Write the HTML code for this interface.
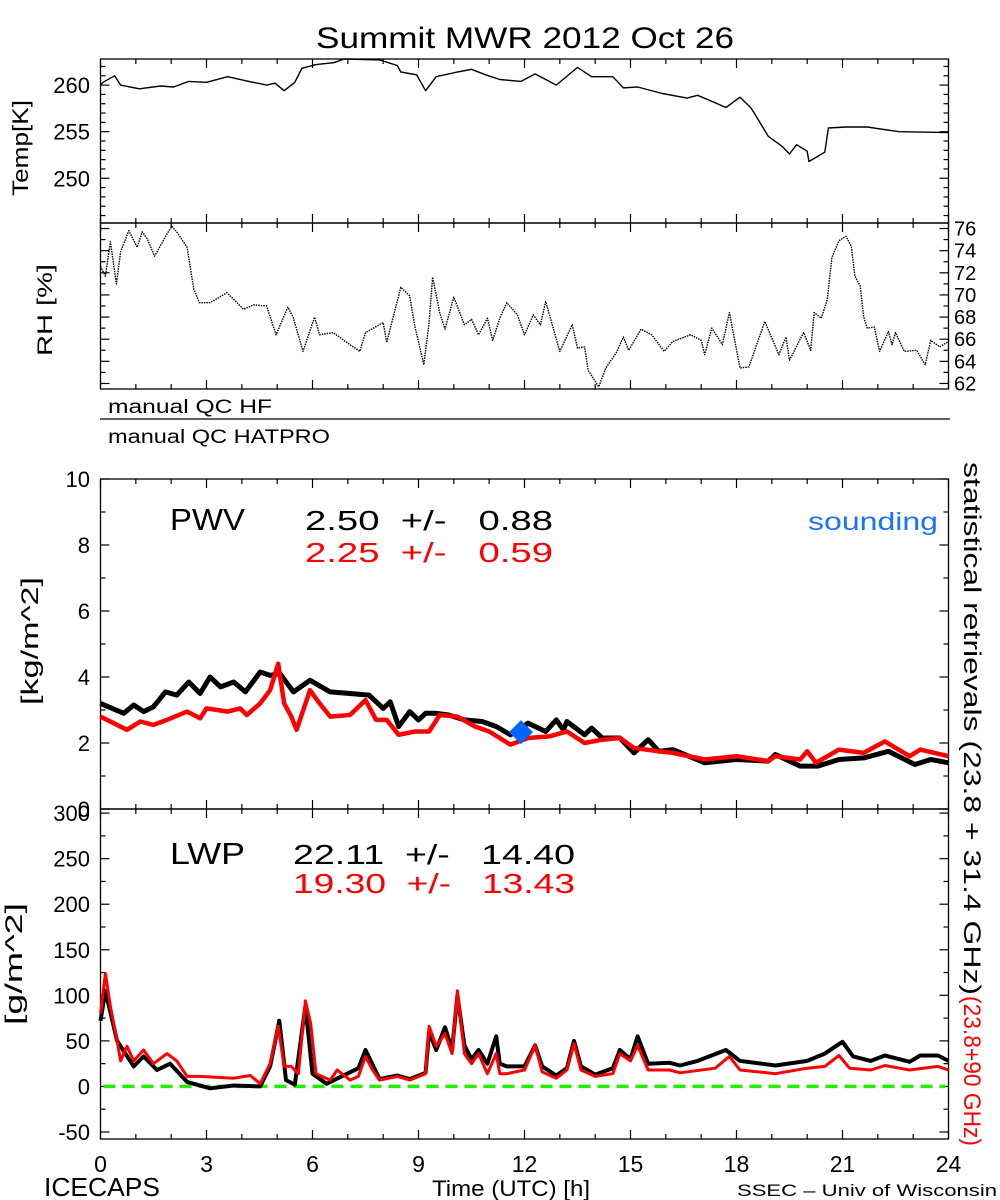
<!DOCTYPE html>
<html><head><meta charset="utf-8"><style>
html,body{margin:0;padding:0;background:#fff;}
svg{display:block;font-family:"Liberation Sans",sans-serif;}
</style></head><body>
<svg id="chart" width="1000" height="1200" viewBox="0 0 1000 1200" xmlns="http://www.w3.org/2000/svg">
<text x="316" y="48" font-size="30" textLength="418" lengthAdjust="spacingAndGlyphs">Summit MWR 2012 Oct 26</text>
<g id="frames"></g>
<g id="series"></g>
<g id="labels" font-size="21">
<text transform="translate(28,196) rotate(-90)" font-size="22" textLength="96" lengthAdjust="spacingAndGlyphs">Temp[K]</text>
<text transform="translate(52,356) rotate(-90)" font-size="21" textLength="92" lengthAdjust="spacingAndGlyphs">RH [%]</text>
<text x="108" y="413" font-size="19" textLength="164" lengthAdjust="spacingAndGlyphs">manual QC HF</text>
<line x1="100" y1="419" x2="950" y2="419" stroke="#000" stroke-width="1.3"/>
<text x="108" y="443" font-size="19" textLength="222" lengthAdjust="spacingAndGlyphs">manual QC HATPRO</text>
<text transform="translate(38,705) rotate(-90)" font-size="24" textLength="128" lengthAdjust="spacingAndGlyphs">[kg/m^2]</text>
<text x="170" y="530" font-size="31" textLength="75" lengthAdjust="spacingAndGlyphs">PWV</text>
<text x="305" y="530" font-size="28" xml:space="preserve" textLength="248" lengthAdjust="spacingAndGlyphs">2.50  +/-   0.88</text>
<text x="305" y="562" font-size="28" fill="#ff0000" xml:space="preserve" textLength="248" lengthAdjust="spacingAndGlyphs">2.25  +/-   0.59</text>
<text x="808" y="530" font-size="25" fill="#1a73ff" textLength="130" lengthAdjust="spacingAndGlyphs">sounding</text>
<text transform="translate(22,1025) rotate(-90)" font-size="24" textLength="122" lengthAdjust="spacingAndGlyphs">[g/m^2]</text>
<text x="170" y="864" font-size="31" textLength="75" lengthAdjust="spacingAndGlyphs">LWP</text>
<text x="293" y="864" font-size="28" xml:space="preserve" textLength="282" lengthAdjust="spacingAndGlyphs">22.11  +/-   14.40</text>
<text x="293" y="893" font-size="28" fill="#ff0000" xml:space="preserve" textLength="282" lengthAdjust="spacingAndGlyphs">19.30  +/-   13.43</text>
<text transform="translate(964,462) rotate(90)" font-size="24" textLength="533" lengthAdjust="spacingAndGlyphs">statistical retrievals (23.8 + 31.4 GHz)</text>
<text transform="translate(964,996) rotate(90)" font-size="24" fill="#ff0000" textLength="150" lengthAdjust="spacingAndGlyphs">(23.8+90 GHz)</text>
<text x="44" y="1196" font-size="26" textLength="116" lengthAdjust="spacingAndGlyphs">ICECAPS</text>
<text x="432" y="1196" font-size="22" textLength="158" lengthAdjust="spacingAndGlyphs">Time (UTC) [h]</text>
<text x="737" y="1196" font-size="17" textLength="260" lengthAdjust="spacingAndGlyphs">SSEC – Univ of Wisconsin</text>
</g>
</svg>
<script>
// ---------- data ----------
const tempHours=[0,0.07,0.4,0.57,1.1,1.7,2.07,2.5,3.0,3.6,4.2,4.7,4.94,5.2,5.5,5.7,6.1,6.6,6.9,7.9,8.4,8.5,8.95,9.2,9.5,10.1,10.5,10.9,11.3,11.9,12.3,12.9,13.5,13.9,14.5,14.8,15.2,15.9,16.6,16.9,17.4,17.7,18.1,18.4,18.5,18.9,19.3,19.5,19.7,20.0,20.05,20.5,20.6,21.1,21.7,22.6,24];
const tempValues=[260.0,260.3,261.0,260.0,259.6,259.9,259.8,260.4,260.3,260.9,260.4,260.0,260.2,259.4,260.3,261.8,262.2,262.4,262.8,262.7,262.1,261.4,261.1,259.4,260.9,261.4,261.7,261.1,260.6,260.4,261.2,260.0,261.9,260.9,260.9,259.7,259.8,259.1,258.6,258.9,258.1,257.6,258.7,257.6,257.0,254.5,253.4,252.6,253.6,252.9,251.8,252.8,255.4,255.5,255.5,255.0,254.9];
const rhHours=[0,0.14,0.28,0.45,0.57,0.8,1.04,1.18,1.32,1.53,1.88,2.02,2.16,2.45,2.64,2.8,3.1,3.58,4.05,4.33,4.7,4.97,5.3,5.45,5.73,6.06,6.2,6.59,7.06,7.34,7.5,8.0,8.1,8.5,8.75,8.9,9.15,9.3,9.4,9.6,9.75,10.0,10.3,10.5,10.7,10.95,11.1,11.3,11.5,11.8,12.0,12.25,12.45,12.6,13.0,13.35,13.5,13.7,13.8,14.1,14.3,14.6,14.8,14.95,15.3,15.6,15.95,16.2,16.7,17.0,17.1,17.3,17.6,17.8,18.1,18.35,18.8,19.2,19.4,19.5,19.9,20.1,20.2,20.4,20.57,20.7,20.9,21.1,21.25,21.35,21.5,21.6,21.7,21.9,22.05,22.3,22.4,22.5,22.75,23.1,23.34,23.5,23.75,24];
const rhValues=[72.6,71.7,74.8,71.0,73.9,75.8,74.3,75.7,75.1,73.5,75.5,76.2,75.7,74.3,70.5,69.3,69.3,70.2,68.7,69.1,69.0,66.4,68.9,68.0,64.9,68.0,66.4,66.6,65.5,64.9,66.6,67.5,65.7,70.7,69.9,67.1,63.7,67.5,71.6,68.4,66.9,69.8,67.3,67.8,66.4,67.9,65.9,67.9,69.3,68.2,66.4,68.2,67.3,69.4,64.9,67.3,65.2,65.3,63.2,61.7,63.4,64.8,66.2,65.0,66.9,66.4,64.9,65.8,66.4,65.9,64.6,67.0,65.5,68.4,63.4,63.5,67.6,64.6,66.2,64.1,66.6,65.0,68.4,67.9,69.6,73.4,74.9,75.3,74.4,71.7,70.8,68.0,67.0,67.1,64.9,66.7,65.5,66.6,64.9,65.0,63.7,65.9,65.3,65.8];
const pwvHoursBlack=[0,0.66,0.94,1.22,1.5,1.84,2.16,2.5,2.82,3.1,3.4,3.77,4.1,4.52,4.8,5.08,5.46,5.93,6.5,7.06,7.6,8.0,8.2,8.44,8.75,9.0,9.2,9.5,9.85,10.3,10.8,11.2,11.6,12.1,12.6,12.9,13.1,13.2,13.7,13.9,14.2,14.7,15.1,15.5,15.8,16.2,17.1,18.0,18.9,19.1,19.8,20.3,20.9,21.6,22.3,23.05,23.5,24];
const pwvBlack=[3.2,2.9,3.15,2.95,3.1,3.55,3.45,3.85,3.5,4.0,3.7,3.85,3.55,4.15,4.05,4.1,3.55,3.9,3.55,3.5,3.45,3.05,3.25,2.5,2.95,2.7,2.9,2.9,2.85,2.7,2.65,2.5,2.25,2.6,2.35,2.7,2.4,2.65,2.25,2.45,2.15,2.15,1.7,2.1,1.75,1.8,1.4,1.5,1.45,1.65,1.3,1.3,1.5,1.55,1.75,1.35,1.5,1.4];
const pwvHoursRed=[0,0.75,1.13,1.5,1.88,2.45,2.82,3.0,3.6,3.95,4.14,4.52,4.8,5.03,5.2,5.4,5.55,5.93,6.2,6.5,7.06,7.5,7.8,8.1,8.44,8.9,9.3,9.6,10.1,10.6,11.0,11.6,12.1,12.7,13.2,13.7,14.2,14.7,15.1,15.8,16.2,17.1,18.0,18.9,19.1,19.8,20.0,20.25,20.9,21.6,22.2,22.9,23.2,24];
const pwvRed=[2.8,2.4,2.65,2.55,2.7,2.95,2.75,3.05,2.95,3.05,2.85,3.2,3.6,4.4,3.2,2.8,2.4,3.6,3.2,2.8,2.85,3.3,2.7,2.7,2.25,2.35,2.35,2.85,2.8,2.5,2.35,1.95,2.15,2.2,2.35,2.0,2.1,2.15,1.85,1.75,1.7,1.5,1.6,1.45,1.6,1.5,1.75,1.4,1.8,1.7,2.05,1.6,1.8,1.6];
const soundingHour=[11.9];
const soundingPwv=[2.33];
const lwpHoursRed=[0,0.14,0.28,0.47,0.57,0.75,0.94,1.22,1.5,1.88,2.16,2.45,2.82,3.77,4.24,4.52,4.8,5.03,5.2,5.4,5.6,5.8,5.95,6.1,6.5,6.7,7.06,7.3,7.5,7.7,7.9,8.4,8.75,9.2,9.3,9.5,9.75,9.95,10.1,10.3,10.5,10.7,10.95,11.2,11.3,11.5,12.0,12.3,12.5,12.9,13.2,13.4,13.6,14.0,14.5,14.7,15.0,15.2,15.5,16.1,16.4,17.4,17.8,18.1,19.1,20.0,20.5,20.9,21.2,21.8,22.2,22.9,23.7,24];
const lwpRed=[80,124,88,50,28,44,28,40,25,36,28,11,11,9,12,3,25,66,22,22,14,94,69,14,7,18,7,11,33,18,7,11,7,14,66,44,58,36,105,36,25,36,14,36,14,14,18,45,16,9,18,47,18,11,14,36,28,45,18,18,15,20,33,18,14,20,22,34,20,18,23,18,22,18];
const lwpHoursBlack=[0,0.14,0.47,0.94,1.22,1.6,1.97,2.45,3.1,3.77,4.52,4.8,5.06,5.25,5.5,5.8,6.0,6.4,6.5,7.3,7.5,7.9,8.4,8.75,9.2,9.3,9.5,9.75,9.95,10.1,10.3,10.5,10.7,10.95,11.2,11.3,11.5,12.0,12.3,12.5,12.9,13.2,13.4,13.6,14.0,14.5,14.7,15.0,15.2,15.5,16.1,16.4,16.9,17.7,18.1,19.1,20.0,20.5,21.0,21.3,21.8,22.2,22.9,23.2,23.7,24];
const lwpBlack=[72,105,50,22,33,18,25,5,-2,1,0,22,72,7,2,88,14,3,5,20,40,8,12,8,15,60,40,65,40,100,45,30,40,25,55,25,22,22,45,22,12,20,50,22,13,20,40,30,55,25,26,23,28,40,28,23,28,36,49,33,28,34,27,34,34,28];
const tempTicks=[250,255,260];
const rhTicks=[62,64,66,68,70,72,74,76];
const pwvTicks=[0,2,4,6,8,10];
const lwpTicks=[-50,0,50,100,150,200,250,300];
const hourTicks=[0,3,6,9,12,15,18,21,24];

// ---------- layout ----------
const X0=100.5,X1=948.5;
const xs=h=>X0+(X1-X0)*h/24;
const panels={
 temp:{top:59,bot:223,min:245.2,max:262.8},
 rh:{top:223,bot:389,min:61.5,max:76.5},
 pwv:{top:479,bot:809,min:0,max:10},
 lwp:{top:809,bot:1139,min:-57.7,max:304.5}
};
const ys=(p,v)=>{const P=panels[p];return P.bot-(v-P.min)/(P.max-P.min)*(P.bot-P.top);};
const NS='http://www.w3.org/2000/svg';
const frames=document.getElementById('frames');
const series=document.getElementById('series');
function mk(tag,attrs,parent){const e=document.createElementNS(NS,tag);for(const k in attrs)e.setAttribute(k,attrs[k]);parent.appendChild(e);return e;}

for(const p of ['temp','rh','pwv','lwp']){
 const P=panels[p];
 const r=mk('rect',{x:X0,y:P.top,width:X1-X0,height:P.bot-P.top,fill:'none',stroke:'#000','stroke-width':1.3},frames);
 
 
 for(let h=0;h<=24;h++){
  const L=(h%3===0)?9:5;
  mk('line',{x1:xs(h),x2:xs(h),y1:P.top,y2:P.top+L,stroke:'#000','stroke-width':1.2},frames);
  mk('line',{x1:xs(h),x2:xs(h),y1:P.bot,y2:P.bot-L,stroke:'#000','stroke-width':1.2},frames);
 }
}
function yticks(p,major,minorStep,leftLabels,rightLabels){
 const P=panels[p];
 const start=Math.ceil(P.min/minorStep)*minorStep;
 for(let v=start;v<=P.max+1e-9;v+=minorStep){
  const isMaj=major.some(m=>Math.abs(m-v)<1e-6);
  const L=isMaj?9:5;const y=ys(p,v);
  mk('line',{x1:X0,x2:X0+L,y1:y,y2:y,stroke:'#000','stroke-width':1.2},frames);
  mk('line',{x1:X1,x2:X1-L,y1:y,y2:y,stroke:'#000','stroke-width':1.2},frames);
 }
 major.forEach(v=>{
  if(leftLabels){const t=mk('text',{x:90,y:ys(p,v)+8,'font-size':22,'text-anchor':'end'},frames);t.textContent=v;
   
   }
  if(rightLabels){const t=mk('text',{x:954,y:ys(p,v)+7,'font-size':20},frames);t.textContent=v;
   
   }
 });
}
yticks('temp',tempTicks,1,true,false);
yticks('rh',rhTicks,1,false,true);
yticks('pwv',pwvTicks,1,true,false);
yticks('lwp',lwpTicks,25,true,false);
hourTicks.forEach(h=>{const t=mk('text',{x:xs(h),y:1172,'font-size':23,'text-anchor':'middle'},frames);t.textContent=h;
 
 });

function line(p,hs,vs,color,w,name,dash){
 const pts=hs.map((h,i)=>xs(h).toFixed(1)+','+ys(p,vs[i]).toFixed(1)).join(' ');
 const a={points:pts,fill:'none',stroke:color,'stroke-width':w,'stroke-linejoin':'round'};
 if(dash)a['stroke-dasharray']=dash;
 const e=mk('polyline',a,series);
 
 
}
const z=mk('line',{x1:X0+3,x2:X1-3,y1:ys('lwp',0),y2:ys('lwp',0),stroke:'#22ee00','stroke-width':3.5,'stroke-dasharray':'12 7'},series);


line('temp',tempHours,tempValues,'#000',1.4,'temperature-line');
line('rh',rhHours,rhValues,'#000',1.4,'rh-line','1.5 1');
line('pwv',pwvHoursBlack,pwvBlack,'#000',5,'pwv-black-series');
line('pwv',pwvHoursRed,pwvRed,'#ff0000',4.5,'pwv-red-series');
line('lwp',lwpHoursBlack,lwpBlack,'#000',4,'lwp-black-series');
line('lwp',lwpHoursRed,lwpRed,'#ff0000',3,'lwp-red-series');
soundingHour.forEach((h,i)=>{
 const cx=xs(h),cy=ys('pwv',soundingPwv[i]);
 const d=mk('polygon',{points:`${cx},${cy-12} ${cx+12},${cy} ${cx},${cy+12} ${cx-12},${cy}`,fill:'#0066ff'},series);
 
 
});
</script>
</body></html>
